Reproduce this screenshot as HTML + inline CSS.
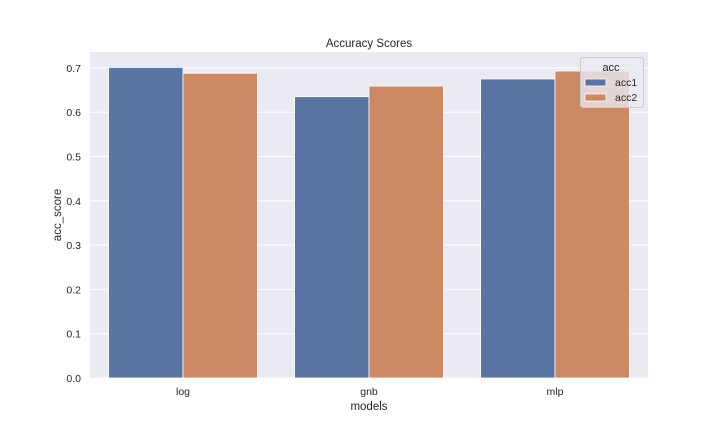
<!DOCTYPE html>
<html><head><meta charset="utf-8"><style>
body{margin:0;background:#fff;}
svg{display:block;font-family:"Liberation Sans","DejaVu Sans",sans-serif;}
</style></head><body>
<svg id="c" width="720" height="432"></svg>
<script>
const categories=["log","gnb","mlp"];
const acc1=[0.701,0.635,0.675];
const acc2=[0.688,0.659,0.693];
const seriesNames=["acc1","acc2"];
const yTicks=[0.0,0.1,0.2,0.3,0.4,0.5,0.6,0.7];
const colors=["#5875a4","#cc8963"];
const svg=document.getElementById('c');const NS="http://www.w3.org/2000/svg";
const L=90,R=648,T=52,B=378;
const y=v=>B-v*443;
const gw=(R-L)/categories.length;
function mk(t,a,txt){const e=document.createElementNS(NS,t);for(const k in a)e.setAttribute(k,a[k]);if(txt!==undefined)e.textContent=txt;svg.appendChild(e);return e;}
let e=mk('rect',{x:L,y:T,width:R-L,height:B-T,fill:'#eaeaf2'});


yTicks.forEach(t=>{
 let g=mk('line',{x1:L,x2:R,y1:y(t),y2:y(t),stroke:'#fff','stroke-width':1});
 
 
 let l=mk('text',{x:L-9,y:y(t)+4,'text-anchor':'end','font-size':10.5,fill:'#262626'},t.toFixed(1));
 
 
});
[acc1,acc2].forEach((s,si)=>{
 s.forEach((v,i)=>{
  const bw=gw*0.4;const x=L+gw*i+gw*0.1+si*bw;
  let r=mk('rect',{x:x,y:y(v),width:bw,height:B-y(v),fill:colors[si],stroke:'#fff','stroke-width':0.8});
  
  
 });
});
categories.forEach((c,i)=>{
 let l=mk('text',{x:L+gw*(i+0.5),y:B+17,'text-anchor':'middle','font-size':10.5,fill:'#262626'},c);
 
 
});
e=mk('text',{x:369,y:47,'text-anchor':'middle','font-size':11.5,fill:'#262626'},'Accuracy Scores');

e=mk('text',{x:369,y:410,'text-anchor':'middle','font-size':11.5,fill:'#262626'},'models');

e=mk('text',{x:0,y:0,'text-anchor':'middle','font-size':11.5,fill:'#262626',transform:'translate(61,215) rotate(-90)'},'acc_score');

e=mk('rect',{x:580.5,y:57.5,width:63,height:50,rx:3,fill:'#eaeaf2','fill-opacity':0.8,stroke:'#ccc'});

e=mk('text',{x:611,y:71,'text-anchor':'middle','font-size':11,fill:'#262626'},'acc');

seriesNames.forEach((n,i)=>{
 let p=mk('rect',{x:585,y:79+i*15,width:21,height:7,fill:colors[i],stroke:'#fff','stroke-width':0.8});
 
 let t=mk('text',{x:615,y:86+i*15,'font-size':10.5,fill:'#262626'},n);
 
});
</script>
</body></html>
